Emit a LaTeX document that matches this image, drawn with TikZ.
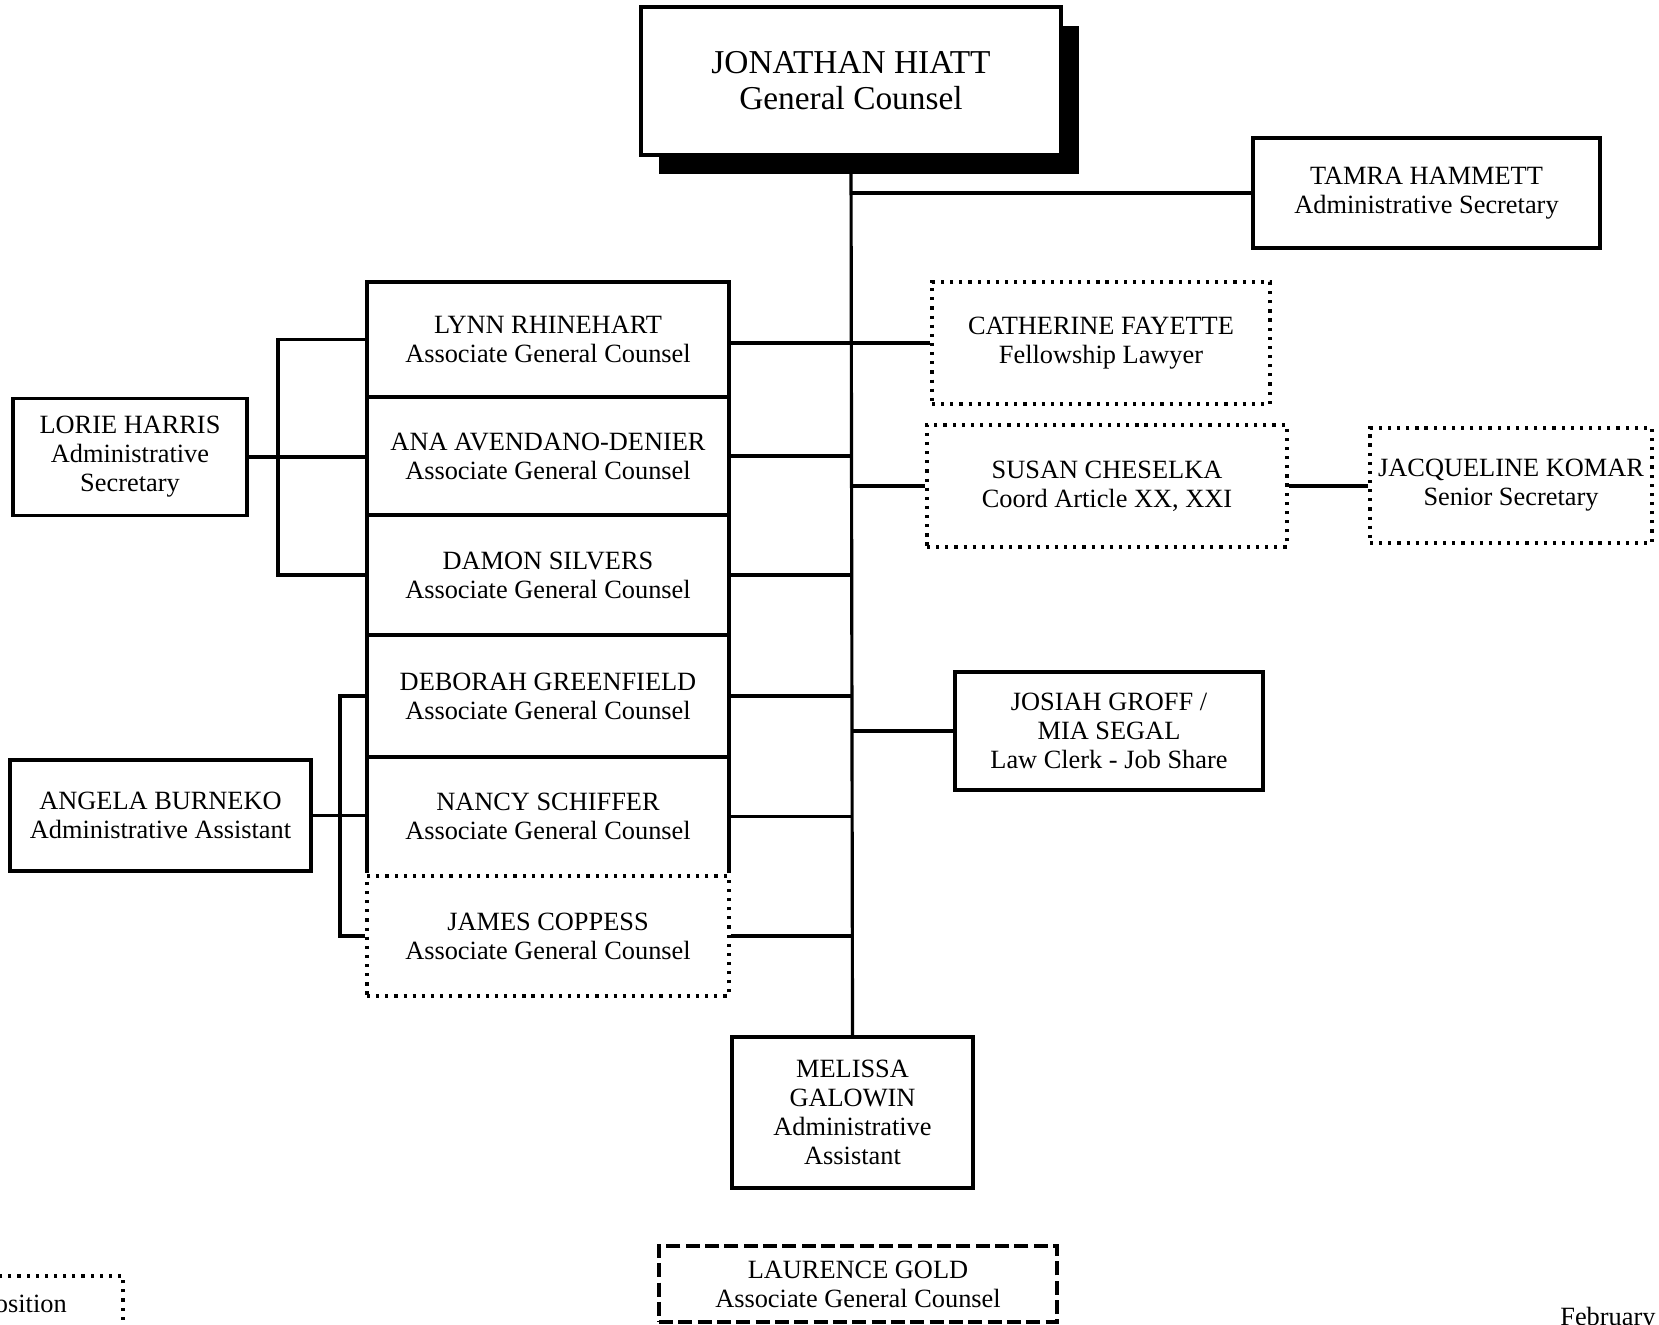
\documentclass[tikz,border=0pt]{standalone}
\usepackage{fontspec}
\setmainfont{Liberation Serif}
\usetikzlibrary{shadows}

\begin{document}
\begin{tikzpicture}[y=-1cm]
	\tikzstyle{box} = [rectangle, draw, line width=1.8pt, inner sep=0pt, align=center, fill=white, font=\fontsize{15}{16.5}\selectfont]
	\tikzstyle{dotbox} = [box, dash pattern=on 1.8pt off 3.4pt, preaction={draw=white, solid, line width=3.5pt}]
	\tikzstyle{dashbox} = [box, dash pattern=on 8pt off 3pt]
	\tikzstyle{link} = [line width=1.8pt]
	\tikzstyle{agc} = [box, minimum width=7.24cm]

	\useasboundingbox (0,0) rectangle (33.18,26.48);

	\node [box, minimum width=8.4cm, minimum height=2.96cm, font=\fontsize{19}{20.5}\selectfont, drop shadow={shadow xshift=0.36cm, shadow yshift=-0.38cm, fill=black, opacity=1}] (H) at (17.02,1.62) {JONATHAN HIATT \\ General Counsel};

	\node [box, minimum width=6.94cm, minimum height=2.2cm] (T) at (28.53,3.86) {TAMRA HAMMETT \\ Administrative Secretary};
	\node [dotbox, minimum width=6.76cm, minimum height=2.44cm] (CF) at (22.02,6.86) {CATHERINE FAYETTE \\ Fellowship Lawyer};
	\node [dotbox, minimum width=7.2cm, minimum height=2.44cm] (SC) at (22.14,9.72) {SUSAN CHESELKA \\ Coord Article XX, XXI};
	\node [dotbox, minimum width=5.64cm, minimum height=2.3cm] (JK) at (30.22,9.71) {JACQUELINE KOMAR \\ Senior Secretary};
	\node [box, minimum width=6.16cm, minimum height=2.36cm] (JG) at (22.18,14.62) {JOSIAH GROFF / \\ MIA SEGAL \\ Law Clerk - Job Share};

	\node [agc, minimum height=2.3cm] (LR) at (10.96,6.79) {LYNN RHINEHART \\ Associate General Counsel};
	\node [agc, minimum height=2.36cm] (AA) at (10.96,9.12) {ANA AVENDANO-DENIER \\ Associate General Counsel};
	\node [agc, minimum height=2.4cm] (DS) at (10.96,11.5) {DAMON SILVERS \\ Associate General Counsel};
	\node [agc, minimum height=2.44cm] (DG) at (10.96,13.92) {DEBORAH GREENFIELD \\ Associate General Counsel};
	\node [agc, minimum height=2.38cm] (NS) at (10.96,16.33) {NANCY SCHIFFER \\ Associate General Counsel};
	\node [agc, dotbox, minimum height=2.4cm] (JC) at (10.96,18.72) {JAMES COPPESS \\ Associate General Counsel};

	\node [box, minimum width=4.68cm, minimum height=2.34cm] (LH) at (2.6,9.14) {LORIE HARRIS \\ Administrative \\ Secretary};
	\node [box, minimum width=6.02cm, minimum height=2.22cm] (AB) at (3.21,16.31) {ANGELA BURNEKO \\ Administrative Assistant};

	\node [box, minimum width=4.82cm, minimum height=3.02cm] (M) at (17.05,22.25) {MELISSA \\ GALOWIN \\ Administrative \\ Assistant};
	\node [dashbox, minimum width=7.96cm, minimum height=1.52cm] (LG) at (17.16,25.68) {LAURENCE GOLD \\ Associate General Counsel};

	\node [dotbox, minimum width=3.98cm, minimum height=1.1cm] (V) at (0.47,26.07) {Position};
	\node [anchor=base west, inner sep=0pt, font=\fontsize{15}{16.5}\selectfont] (date) at (31.2,26.5) {February};

	\coordinate (lb) at (5.56,0);
	\coordinate (ab) at (6.8,0);

	\draw [link] (H.south) -- (M.north);
	\foreach \n in {T, SC, JG} \draw [link] (\n.west) -- (\n.west -| H.south);
	\draw [link] (LR.east |- CF.west) -- (CF.west);
	\foreach \n in {AA, DS, DG, NS, JC} \draw [link] (\n.east) -- (\n.east -| H.south);
	\draw [link] (SC.east) -- (SC.east -| JK.west);

	\draw [link] (LH.east) -- (LH.east -| AA.west);
	\draw [link] (LR.west) -- (LR.west -| lb) -- (DS.west -| lb) -- (DS.west);
	\draw [link] (AB.east) -- (AB.east -| NS.west);
	\draw [link] (DG.west) -- (DG.west -| ab) -- (JC.west -| ab) -- (JC.west);
\end{tikzpicture}
\end{document}
